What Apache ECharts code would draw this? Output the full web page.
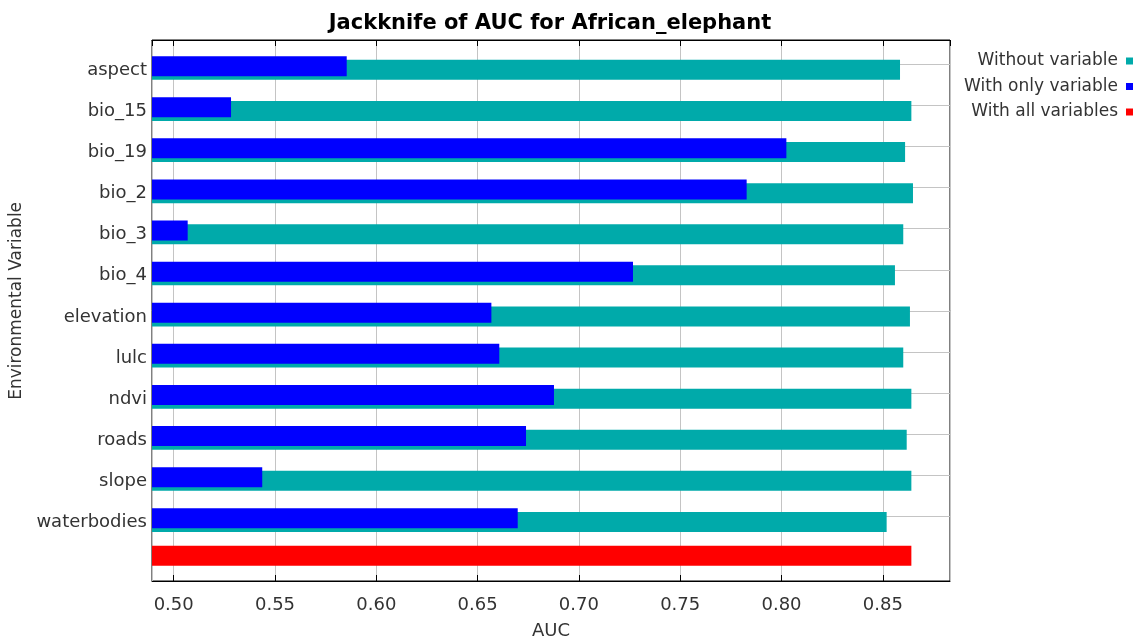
<!DOCTYPE html>
<html>
<head>
<meta charset="utf-8">
<title>Jackknife of AUC for African_elephant</title>
<script src="https://cdn.jsdelivr.net/npm/echarts@6/dist/echarts.min.js"></script>
<style>
  html, body { margin: 0; padding: 0; background: #fff; }
  #chart { width: 1138px; height: 639px; }
</style>
</head>
<body>
<div id="chart"></div>
<script>
// Environmental variables tested in the jackknife
const variables = ['aspect', 'bio_15', 'bio_19', 'bio_2', 'bio_3', 'bio_4',
  'elevation', 'lulc', 'ndvi', 'roads', 'slope', 'waterbodies'];

// AUC of the model built without each variable
const withoutVariable = [0.8585, 0.8641, 0.8610, 0.8649, 0.8601, 0.8560,
  0.8634, 0.8601, 0.8641, 0.8618, 0.8641, 0.8519];

// AUC of the model built with only that variable
const withOnlyVariable = [0.5854, 0.5283, 0.8024, 0.7828, 0.5069, 0.7267,
  0.6568, 0.6607, 0.6877, 0.6739, 0.5437, 0.6698];

// AUC of the full model
const withAllVariables = 0.8641;

// AUC axis range
const aucMin = 0.48929;
const aucMax = 0.88317;

// one extra (unlabelled) row at the bottom for the full model
const categories = variables.concat(['']);
const lastRow = categories.length - 1;

const FONT = 'DejaVu Sans';
const TEXT = '#333';
const BAR_GAP = '-81.5%';

const chart = echarts.init(document.getElementById('chart'), null, { renderer: 'canvas' });

const option = {
  animation: false,
  backgroundColor: '#fff',
  title: {
    text: 'Jackknife of AUC for African_elephant',
    left: 545,
    top: 8,
    textAlign: 'center',
    textStyle: { fontFamily: FONT, fontSize: 21, fontWeight: 'bold', color: '#000' }
  },
  legend: {
    orient: 'vertical',
    right: 5,
    top: 51,
    padding: 0,
    align: 'right',
    icon: 'rect',
    itemWidth: 7,
    itemHeight: 7,
    itemGap: 5.5,
    selectedMode: false,
    data: ['Without variable', 'With only variable', 'With all variables'],
    textStyle: { fontFamily: FONT, fontSize: 17, color: TEXT, lineHeight: 20, padding: [0, 3, 0, 0] }
  },
  grid: [
    // frame of the plot area
    { left: 152, right: 188, top: 40, bottom: 58, outerBoundsMode: 'none', containLabel: false,
      show: true, borderColor: '#000', borderWidth: 1, backgroundColor: 'transparent' },
    // rows of bars
    { left: 152, right: 188, top: 43.75, bottom: 60.95, outerBoundsMode: 'none', containLabel: false }
  ],
  xAxis: [
    {
      gridIndex: 0, type: 'value', min: aucMin, max: aucMax, splitNumber: 8, position: 'bottom',
      name: 'AUC', nameLocation: 'middle', nameGap: 41,
      nameTextStyle: { fontFamily: FONT, fontSize: 18, color: TEXT },
      axisLine: { show: true, lineStyle: { color: '#000', width: 1 } },
      axisTick: { show: true, inside: true, length: 6, lineStyle: { color: '#000' } },
      axisLabel: {
        margin: 15, showMinLabel: false, showMaxLabel: false,
        fontFamily: FONT, fontSize: 18, color: TEXT,
        formatter: v => v.toFixed(2)
      },
      splitLine: { show: true, lineStyle: { color: '#c4c4c4', width: 1 } }
    },
    {
      gridIndex: 0, type: 'value', min: aucMin, max: aucMax, splitNumber: 8, position: 'top',
      axisLine: { show: true, lineStyle: { color: '#000', width: 1 } },
      axisTick: { show: true, inside: true, length: 6, lineStyle: { color: '#000' } },
      axisLabel: { show: false },
      splitLine: { show: false }
    },
    { gridIndex: 1, type: 'value', min: aucMin, max: aucMax, show: false }
  ],
  yAxis: [
    { gridIndex: 0, type: 'value', show: false },
    {
      gridIndex: 1, type: 'category', data: categories, inverse: true, position: 'left',
      name: 'Environmental Variable', nameLocation: 'middle', nameGap: 120,
      nameTextStyle: { fontFamily: FONT, fontSize: 17, color: TEXT, padding: [0, 0, 0, 20] },
      axisLine: { show: false },
      axisTick: { show: false },
      axisLabel: {
        margin: 5, fontFamily: FONT, fontSize: 18, color: TEXT,
        verticalAlign: 'top', lineHeight: 12
      },
      splitLine: { show: false }
    },
    {
      gridIndex: 1, type: 'category', data: categories, inverse: true, position: 'right',
      axisLine: { show: false },
      axisTick: {
        show: true, inside: true, alignWithLabel: true, length: 6,
        interval: i => i < lastRow,
        lineStyle: { color: '#000' }
      },
      axisLabel: { show: false },
      splitLine: { show: false }
    }
  ],
  series: [
    {
      // horizontal line through the centre of each variable row
      name: 'row lines', type: 'line', xAxisIndex: 2, yAxisIndex: 1,
      data: [], silent: true, z: 1,
      markLine: {
        silent: true, symbol: 'none', z: 1,
        label: { show: false },
        lineStyle: { color: '#c4c4c4', width: 1, type: 'solid' },
        data: variables.map((v, i) => ({ yAxis: i }))
      }
    },
    {
      // empty first bar slot, so the bars sit just below each row centre
      name: 'spacer', type: 'bar', xAxisIndex: 2, yAxisIndex: 1,
      barWidth: 20, barGap: BAR_GAP,
      data: categories.map(() => '-')
    },
    {
      name: 'With all variables', type: 'bar', xAxisIndex: 2, yAxisIndex: 1,
      barWidth: 20, barGap: BAR_GAP, z: 2,
      itemStyle: { color: '#ff0000' },
      data: categories.map((c, i) => (i === lastRow ? withAllVariables : '-'))
    },
    {
      name: 'With only variable', type: 'bar', xAxisIndex: 2, yAxisIndex: 1,
      barWidth: 20, barGap: BAR_GAP, z: 4,
      itemStyle: { color: '#0000ff' },
      data: withOnlyVariable.concat(['-'])
    },
    {
      name: 'Without variable', type: 'bar', xAxisIndex: 2, yAxisIndex: 1,
      barWidth: 20, barGap: BAR_GAP, z: 3,
      itemStyle: { color: '#00aaaa' },
      data: withoutVariable.concat(['-'])
    }
  ]
};

chart.setOption(option);
</script>
</body>
</html>
